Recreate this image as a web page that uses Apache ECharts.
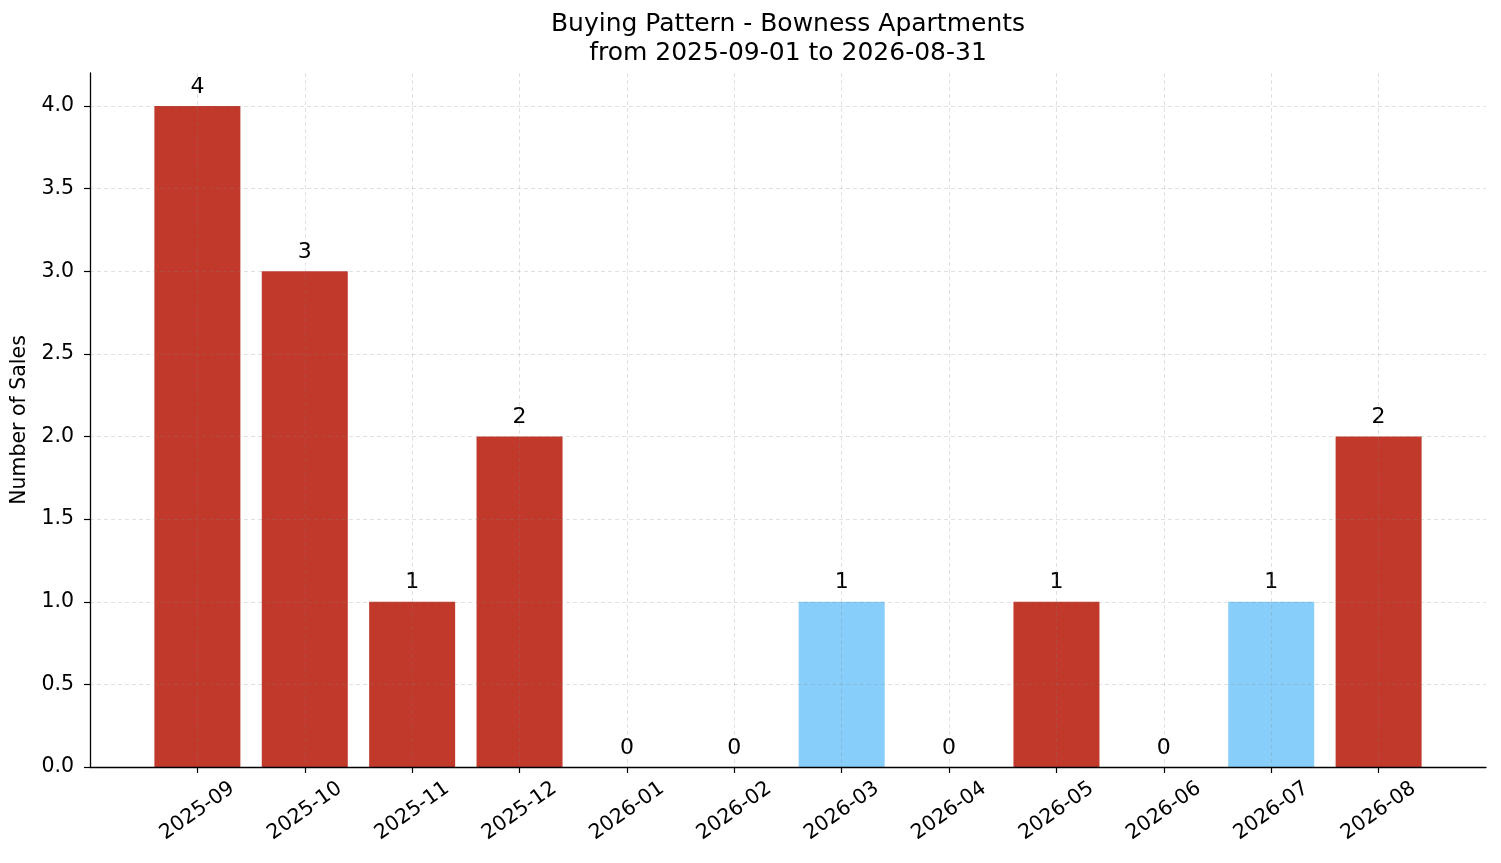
<!DOCTYPE html>
<html>
<head>
<meta charset="utf-8">
<script src="https://cdn.jsdelivr.net/npm/echarts@6/dist/echarts.min.js"></script>
<style>
html, body { margin: 0; padding: 0; background: #fff; }
#chart { width: 1501px; height: 863px; }
</style>
</head>
<body>
<div id="chart"></div>
<script>
var months = ['2025-09', '2025-10', '2025-11', '2025-12', '2026-01', '2026-02',
              '2026-03', '2026-04', '2026-05', '2026-06', '2026-07', '2026-08'];
var sales = [4, 3, 1, 2, 0, 0, 1, 0, 1, 0, 1, 2];
// light blue marks the months drawn in the second colour
var highlighted = [false, false, false, false, false, false, true, false, false, false, true, false];

var RED = '#c0392b';
var BLUE = '#87cefa';
var FONT = 'DejaVu Sans';
var GRID = 'rgba(128,128,128,0.3)';

var myChart = echarts.init(document.getElementById('chart'));

var barData = [];
var idx = [];
for (var i = 0; i < months.length; i++) {
    idx.push(i);
    barData.push({
        value: [i, sales[i]],
        itemStyle: { color: highlighted[i] ? BLUE : RED }
    });
}

var option = {
    backgroundColor: '#fff',
    animation: false,
    title: {
        text: 'Buying Pattern - Bowness Apartments\nfrom 2025-09-01 to 2026-08-31',
        left: 788,
        textAlign: 'center',
        top: 10,
        padding: 0,
        textStyle: {
            fontFamily: FONT,
            fontWeight: 'normal',
            fontSize: 25,
            lineHeight: 29,
            color: '#000'
        }
    },
    grid: {
        left: 90,
        right: 15,
        top: 73,
        bottom: 96
    },
    xAxis: {
        type: 'value',
        z: 3,
        min: -1,
        max: 12,
        interval: 1,
        axisLine: { show: true, onZero: false, lineStyle: { color: '#000', width: 1.3 } },
        axisTick: { show: true, length: 6, lineStyle: { color: '#000', width: 1.2 }, customValues: idx },
        axisLabel: {
            customValues: idx,
            rotate: 35,
            align: 'center',
            verticalAlign: 'middle',
            margin: 44,
            fontFamily: FONT,
            fontSize: 20.5,
            color: '#000',
            formatter: function (v) { return months[v] || ''; }
        },
        splitLine: {
            show: true,
            lineStyle: { color: GRID, type: [4, 3], width: 0.8 }
        }
    },
    yAxis: {
        type: 'value',
        z: 3,
        min: 0,
        max: 4.2,
        interval: 0.5,
        name: 'Number of Sales',
        nameLocation: 'middle',
        nameGap: 54,
        nameTextStyle: { fontFamily: FONT, fontSize: 20.5, color: '#000' },
        axisLine: { show: true, onZero: false, lineStyle: { color: '#000', width: 1.3 } },
        axisTick: { show: true, length: 6, lineStyle: { color: '#000', width: 1.2 } },
        axisLabel: {
            fontFamily: FONT,
            fontSize: 20.5,
            color: '#000',
            margin: 16,
            showMaxLabel: false,
            formatter: function (v) {
                if (Math.abs(v * 2 - Math.round(v * 2)) > 1e-6) return '';
                return v.toFixed(1);
            }
        },
        splitLine: {
            show: true,
            showMaxLine: false,
            lineStyle: { color: GRID, type: [4, 3], width: 0.8 }
        }
    },
    series: [{
        type: 'bar',
        barWidth: 86,
        data: barData,
        label: {
            show: true,
            position: 'top',
            distance: 8,
            fontFamily: FONT,
            fontSize: 22,
            color: '#000',
            formatter: function (p) { return p.value[1]; }
        }
    }]
};

myChart.setOption(option);
</script>
</body>
</html>
